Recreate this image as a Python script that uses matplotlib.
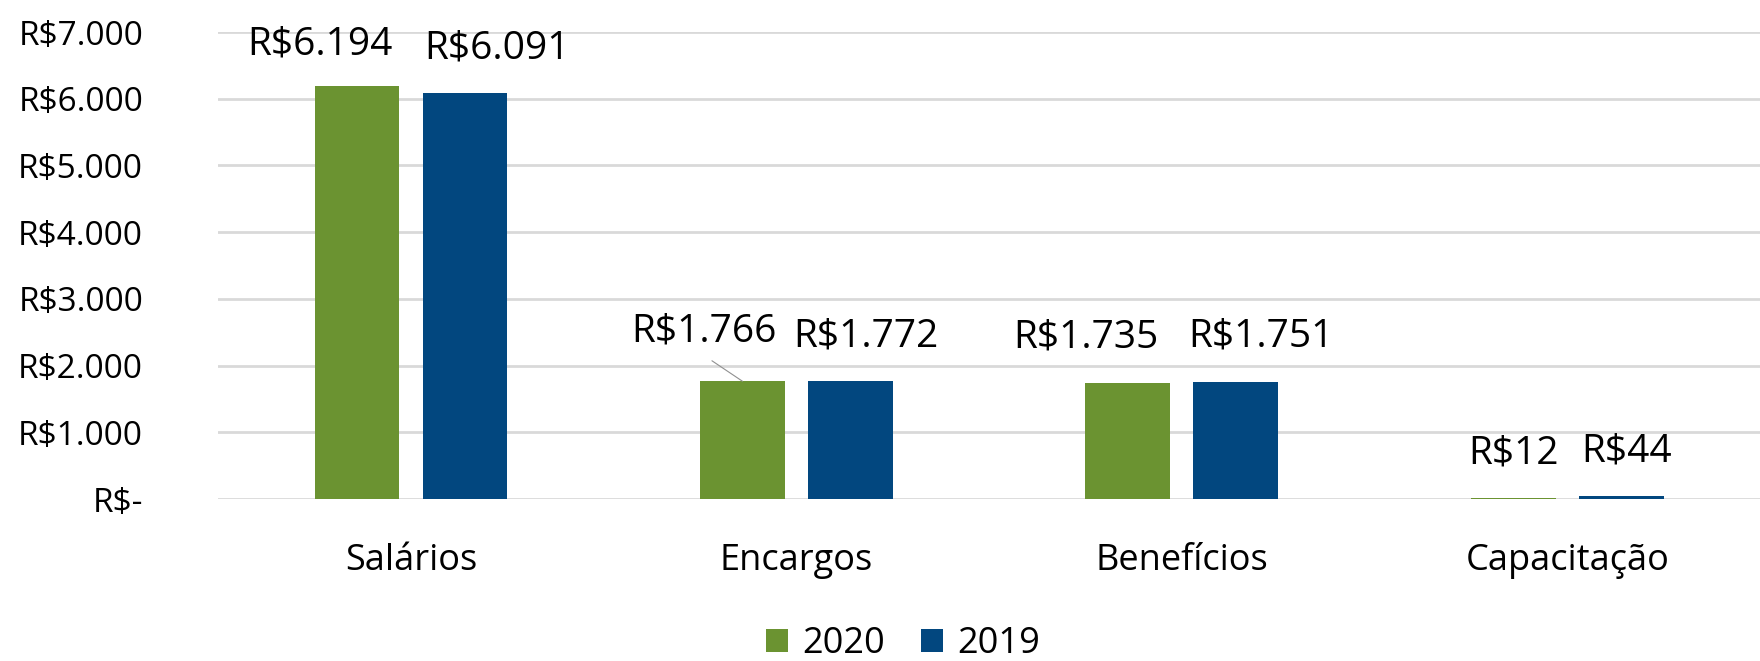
import matplotlib
matplotlib.use("Agg")
from matplotlib import pyplot as plt
from matplotlib.ticker import FuncFormatter
import numpy as np

categorias = ['Salários', 'Encargos', 'Benefícios', 'Capacitação']
valores_2020 = [6194, 1766, 1735, 12]
valores_2019 = [6091, 1772, 1751, 44]
anos = ['2020', '2019']
cores = ['#6B9331', '#02477F']

plt.rcParams['font.family'] = ['Open Sans', 'DejaVu Sans']
FS_EIXO = 24
FS_CAT = 26
FS_ROT = 28


def reais(v, pos=None):
    if v == 0:
        return 'R$-'
    return 'R$' + f'{int(v):,}'.replace(',', '.')


fig = plt.figure(figsize=(17.6, 6.61), dpi=100)
ax = fig.add_axes([0.124, 0.245, 0.876, 0.7065])

x = np.arange(len(categorias))
w = 0.22
off = 0.14
b1 = ax.bar(x - off, valores_2020, w, color=cores[0], label=anos[0], zorder=3)
b2 = ax.bar(x + off, valores_2019, w, color=cores[1], label=anos[1], zorder=3)

# deslocamento dos rótulos (pt), como o Excel afastou
desl_2020 = [(-27, 30), (-28, 36), (-30, 33), (0, 32)]
desl_2019 = [(23, 32), (11, 32), (18, 33), (4, 32)]

for barras, vals, desl in [(b1, valores_2020, desl_2020), (b2, valores_2019, desl_2019)]:
    for i, (b, v) in enumerate(zip(barras, vals)):
        cx = b.get_x() + b.get_width() / 2
        if barras is b1 and i == 1:
            # rótulo deslocado com linha de ligação
            ax.annotate(reais(v), xy=(cx, v), xytext=desl[i],
                        textcoords='offset points', ha='center', va='center',
                        fontsize=FS_ROT,
                        arrowprops=dict(arrowstyle='-', color='#909090', lw=0.8,
                                        relpos=(0.45, 0), shrinkA=10, shrinkB=0))
        else:
            ax.annotate(reais(v), xy=(cx, v), xytext=desl[i],
                        textcoords='offset points', ha='center', va='center',
                        fontsize=FS_ROT)

ax.set_ylim(0, 7000)
ax.set_xlim(-0.5, 3.5)
ax.set_yticks(np.arange(0, 7001, 1000))
ax.yaxis.set_major_formatter(FuncFormatter(reais))
ax.set_xticks(x)
ax.set_xticklabels(categorias)
ax.tick_params(axis='y', length=0, pad=54, labelsize=FS_EIXO)
ax.tick_params(axis='x', length=0, pad=32, labelsize=FS_CAT)
ax.grid(axis='y', color='#D9D9D9', lw=2, zorder=0)
for s in ax.spines.values():
    s.set_visible(False)

fig.legend(loc='center', bbox_to_anchor=(0.513, 0.026), ncol=2, frameon=False,
           fontsize=FS_CAT, handlelength=0.6, handleheight=0.6, handletextpad=0.4,
           columnspacing=1.0)

fig.savefig('out.png', dpi=100)
